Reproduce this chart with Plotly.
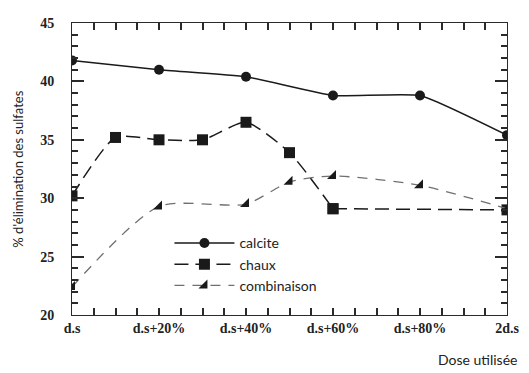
import plotly.graph_objects as go

x_calcite = [0, 20, 40, 60, 80, 100]
y_calcite = [41.8, 41.0, 40.4, 38.8, 38.8, 35.4]

x_chaux = [0, 10, 20, 30, 40, 50, 60, 100]
y_chaux = [30.2, 35.2, 35.0, 35.0, 36.5, 33.9, 29.1, 29.0]

x_comb = [0, 20, 40, 50, 60, 80, 100]
y_comb = [22.4, 29.3, 29.5, 31.4, 31.9, 31.1, 29.1]

tick_vals = [0, 20, 40, 60, 80, 100]
tick_text = ["d.s", "d.s+20%", "d.s+40%", "d.s+60%", "d.s+80%", "2d.s"]

BLACK = "#1a1a1a"
AX = "#2a2a2a"
fig = go.Figure()
fig.add_trace(go.Scatter(
    x=x_calcite, y=y_calcite, name="calcite", mode="lines+markers",
    line=dict(color=BLACK, width=1.5, shape="spline", smoothing=0.4),
    marker=dict(symbol="circle", size=10, color=BLACK),
))
# chaux: smooth part, then straight final segment
fig.add_trace(go.Scatter(
    x=x_chaux[:7], y=y_chaux[:7], name="chaux", mode="lines+markers",
    line=dict(color=BLACK, width=1.5, shape="spline", smoothing=0.6, dash="14px,7px"),
    marker=dict(symbol="square", size=11, color=BLACK), legendgroup="chaux",
))
fig.add_trace(go.Scatter(
    x=x_chaux[6:], y=y_chaux[6:], name="chaux", mode="lines+markers", showlegend=False,
    line=dict(color=BLACK, width=1.5, dash="14px,7px"),
    marker=dict(symbol="square", size=11, color=BLACK), legendgroup="chaux",
))
fig.add_trace(go.Scatter(
    x=x_comb, y=y_comb, name="combinaison", mode="lines+markers",
    line=dict(color="#707070", width=1.3, shape="spline", smoothing=0.7, dash="10px,8px"),
    marker=dict(symbol="triangle-se", size=10, color=BLACK),
))

tickfont = dict(family="Liberation Serif, Times New Roman, serif", size=14,
                color="#222222", weight="bold")

fig.update_xaxes(
    range=[0, 100], dtick=20,
    labelalias={str(v): t for v, t in zip(tick_vals, tick_text)},
    showline=True, linecolor=AX, mirror="allticks",
    ticks="inside", ticklen=7, tickwidth=1.5, tickcolor=AX,
    tickfont=tickfont,
    minor=dict(dtick=5, ticks="inside", ticklen=7, tickcolor=AX, tickwidth=1.5),
)
fig.update_yaxes(
    range=[20, 45], dtick=5,
    ticksuffix="\u00a0\u00a0\u00a0\u00a0",
    showline=True, linecolor=AX, mirror="allticks",
    ticks="inside", ticklen=12, tickwidth=1.5, tickcolor=AX,
    tickfont=tickfont,
    minor=dict(dtick=1, ticks="inside", ticklen=6, tickcolor=AX, tickwidth=1.5),
)

# the page body adds an 8px offset, margins compensate for it
fig.update_layout(
    width=529, height=373,
    margin=dict(l=64, r=30, t=8, b=66),
    plot_bgcolor="white", paper_bgcolor="white",
    showlegend=True,
    legend=dict(
        x=0.224, y=0.30, xanchor="left", yanchor="top",
        bgcolor="rgba(0,0,0,0)", itemwidth=60, tracegroupgap=0,
        font=dict(family="Lato, Open Sans, sans-serif", size=14, color="#222222"),
    ),
    annotations=[
        dict(text="Dose utilisée", x=1.027, y=-0.115, xref="paper", yref="paper",
             xanchor="right", yanchor="top", showarrow=False,
             font=dict(family="Lato, Open Sans, sans-serif", size=14, color="#222222")),
        dict(text="% d'élimination des sulfates", x=-0.125, y=0.5,
             xref="paper", yref="paper", textangle=-90, xanchor="center", yanchor="middle",
             showarrow=False,
             font=dict(family="Lato, Open Sans, sans-serif", size=13, color="#222222")),
    ],
)

fig.write_html("out.html")
